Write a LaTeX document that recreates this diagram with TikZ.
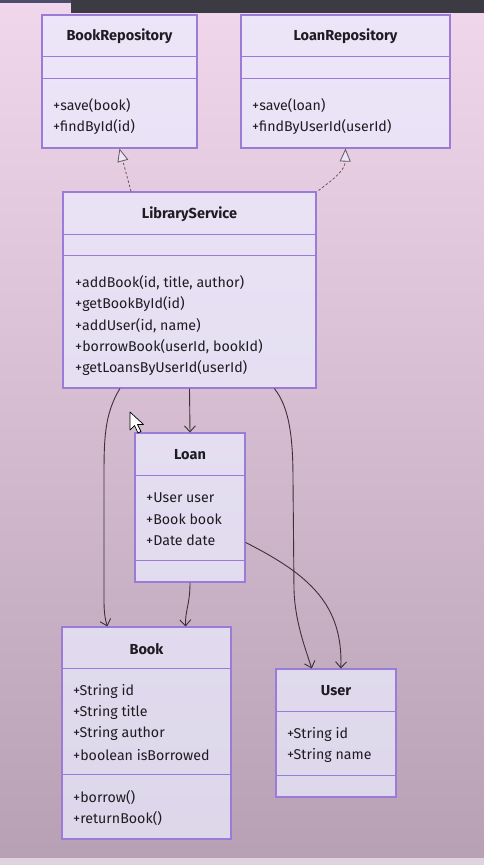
\documentclass[tikz,border=0pt]{standalone}
\usepackage{fontspec}
\setmainfont{Fira Sans}
\usetikzlibrary{calc,arrows.meta,positioning}

\begin{document}
\begin{tikzpicture}[x=1pt, y=-1pt, >=Stealth]
    % Colors
    \definecolor{bgTop}{HTML}{F1D7EB}
    \definecolor{bgBot}{HTML}{B7A0B4}
    \definecolor{boxFill}{HTML}{ECECFF}
    \definecolor{boxLine}{HTML}{9A7BD8}
    \definecolor{edgeCol}{HTML}{3B3136}
    \definecolor{barCol}{HTML}{3C3B44}
    \definecolor{textCol}{HTML}{1E1B22}

    \tikzset{
        classbox/.style={draw=boxLine, line width=1.1pt, fill=boxFill, fill opacity=0.72, inner sep=0pt},
        divline/.style={boxLine, line width=1pt},
        classtitle/.style={font=\fontsize{14.5}{16}\selectfont\bfseries, text=textCol, inner sep=0pt},
        member/.style={font=\fontsize{14.2}{16}\selectfont, text=textCol, anchor=west, inner sep=0pt},
        realize/.style={edgeCol!80, line width=0.8pt, dash pattern=on 2.5pt off 2pt,
            -{Triangle[open, length=13pt, width=11pt, line width=0.8pt, fill=boxFill!60!bgTop]}},
        assoc/.style={edgeCol, line width=0.9pt, -{Straight Barb[length=6pt, width=11pt, line width=0.9pt]}}
    }

    % 1. Background (screen capture)
    \useasboundingbox (0,0) rectangle (484,865);
    \fill[top color=bgTop, bottom color=bgBot] (0,0) rectangle (484,865);
    \fill[barCol] (71,0) rectangle (484,13);
    \fill[black!70!blue!40!gray] (0,0) rectangle (71,3);
    \fill[white!55!bgBot] (0,858) rectangle (484,865);

    % 2. Class boxes
    \node[classbox, minimum width=155, minimum height=133] (bookrepo) at (119.5,81.5) {};
    \node[classbox, minimum width=209, minimum height=133] (loanrepo) at (345.5,81.5) {};
    \node[classbox, minimum width=253, minimum height=196] (libsvc) at (189.5,290) {};
    \node[classbox, minimum width=110, minimum height=149] (loan) at (190,507.5) {};
    \node[classbox, minimum width=169, minimum height=212] (book) at (146.5,733) {};
    \node[classbox, minimum width=120, minimum height=128] (user) at (336,733) {};

    % compartment rules
    \foreach \cls/\ya/\yb in {bookrepo/42/64, loanrepo/42/64, libsvc/43/64, loan/43/128, book/42/148, user/43/107} {
        \draw[divline] ($(\cls.north west)+(0,\ya)$) -- ($(\cls.north east)+(0,\ya)$);
        \draw[divline] ($(\cls.north west)+(0,\yb)$) -- ($(\cls.north east)+(0,\yb)$);
    }

    % 3. Titles and members
    \node[classtitle] (bookrepo-t) at (119.5,36) {BookRepository};
    \foreach \txt [count=\i] in {+save(book), +findById(id)}
        \node[member] (bookrepo-m\i) at (53,{85+21*\i}) {\txt};

    \node[classtitle] (loanrepo-t) at (345.5,36) {LoanRepository};
    \foreach \txt [count=\i] in {+save(loan), +findByUserId(userId)}
        \node[member] (loanrepo-m\i) at (252,{85+21*\i}) {\txt};

    \node[classtitle] (libsvc-t) at (189.5,214) {LibraryService};
    \foreach \txt [count=\i] in {{+addBook(id, title, author)}, +getBookById(id), {+addUser(id, name)},
            {+borrowBook(userId, bookId)}, +getLoansByUserId(userId)}
        \node[member] (libsvc-m\i) at (75,{261.5+21.3*\i}) {\txt};

    \node[classtitle] (loan-t) at (190,455) {Loan};
    \foreach \txt [count=\i] in {+User user, +Book book, +Date date}
        \node[member] (loan-a\i) at (146,{477+21*\i}) {\txt};

    \node[classtitle] (book-t) at (146.5,649) {Book};
    \foreach \txt [count=\i] in {+String id, +String title, +String author, +boolean isBorrowed}
        \node[member] (book-a\i) at (73,{670+21.3*\i}) {\txt};
    \foreach \txt [count=\i] in {+borrow(), +returnBook()}
        \node[member] (book-m\i) at (73,{776+21.3*\i}) {\txt};

    \node[classtitle] (user-t) at (336,691) {User};
    \foreach \txt [count=\i] in {+String id, +String name}
        \node[member] (user-a\i) at (287,{713+21*\i}) {\txt};

    % 4. Realization (dashed, hollow triangle)
    \draw[realize] ($(libsvc.north west)!0.27!(libsvc.north east)$) -- (bookrepo.south);
    \draw[realize] ($(libsvc.north east)+(2,-1)$) .. controls (335,178) and (345,170) .. (loanrepo.south);

    % 5. Associations
    \draw[assoc] (libsvc.south) -- (loan.north);
    \draw[assoc] ($(libsvc.south west)!0.226!(libsvc.south east)$)
        .. controls (104,415) and (104,440) .. (104,480) -- (104,600)
        .. controls (104,612) and (105,619) .. ($(book.north west)!0.27!(book.north east)$);
    \draw[assoc] (loan.south) .. controls (190,605) and (185,610) .. ($(book.north west)!0.73!(book.north east)$);
    \draw[assoc] ($(libsvc.south west)!0.834!(libsvc.south east)$)
        .. controls (290,408) and (293,440) .. (293,480) -- (294,590)
        .. controls (295,620) and (304,645) .. ($(user.north west)!0.3!(user.north east)$);
    \draw[assoc] ($(loan.north east)+(0,110)$) .. controls (310,575) and (343,605) .. ($(user.north west)!0.54!(user.north east)$);

    % 6. Mouse pointer
    \filldraw[fill=white, draw=black, line width=0.7pt, line join=round]
        (130,412) -- (130,430) -- (134.5,425.5) -- (138,433) -- (141,431.5) -- (137.5,424.5) -- (143.5,424.5) -- cycle;
\end{tikzpicture}
\end{document}
